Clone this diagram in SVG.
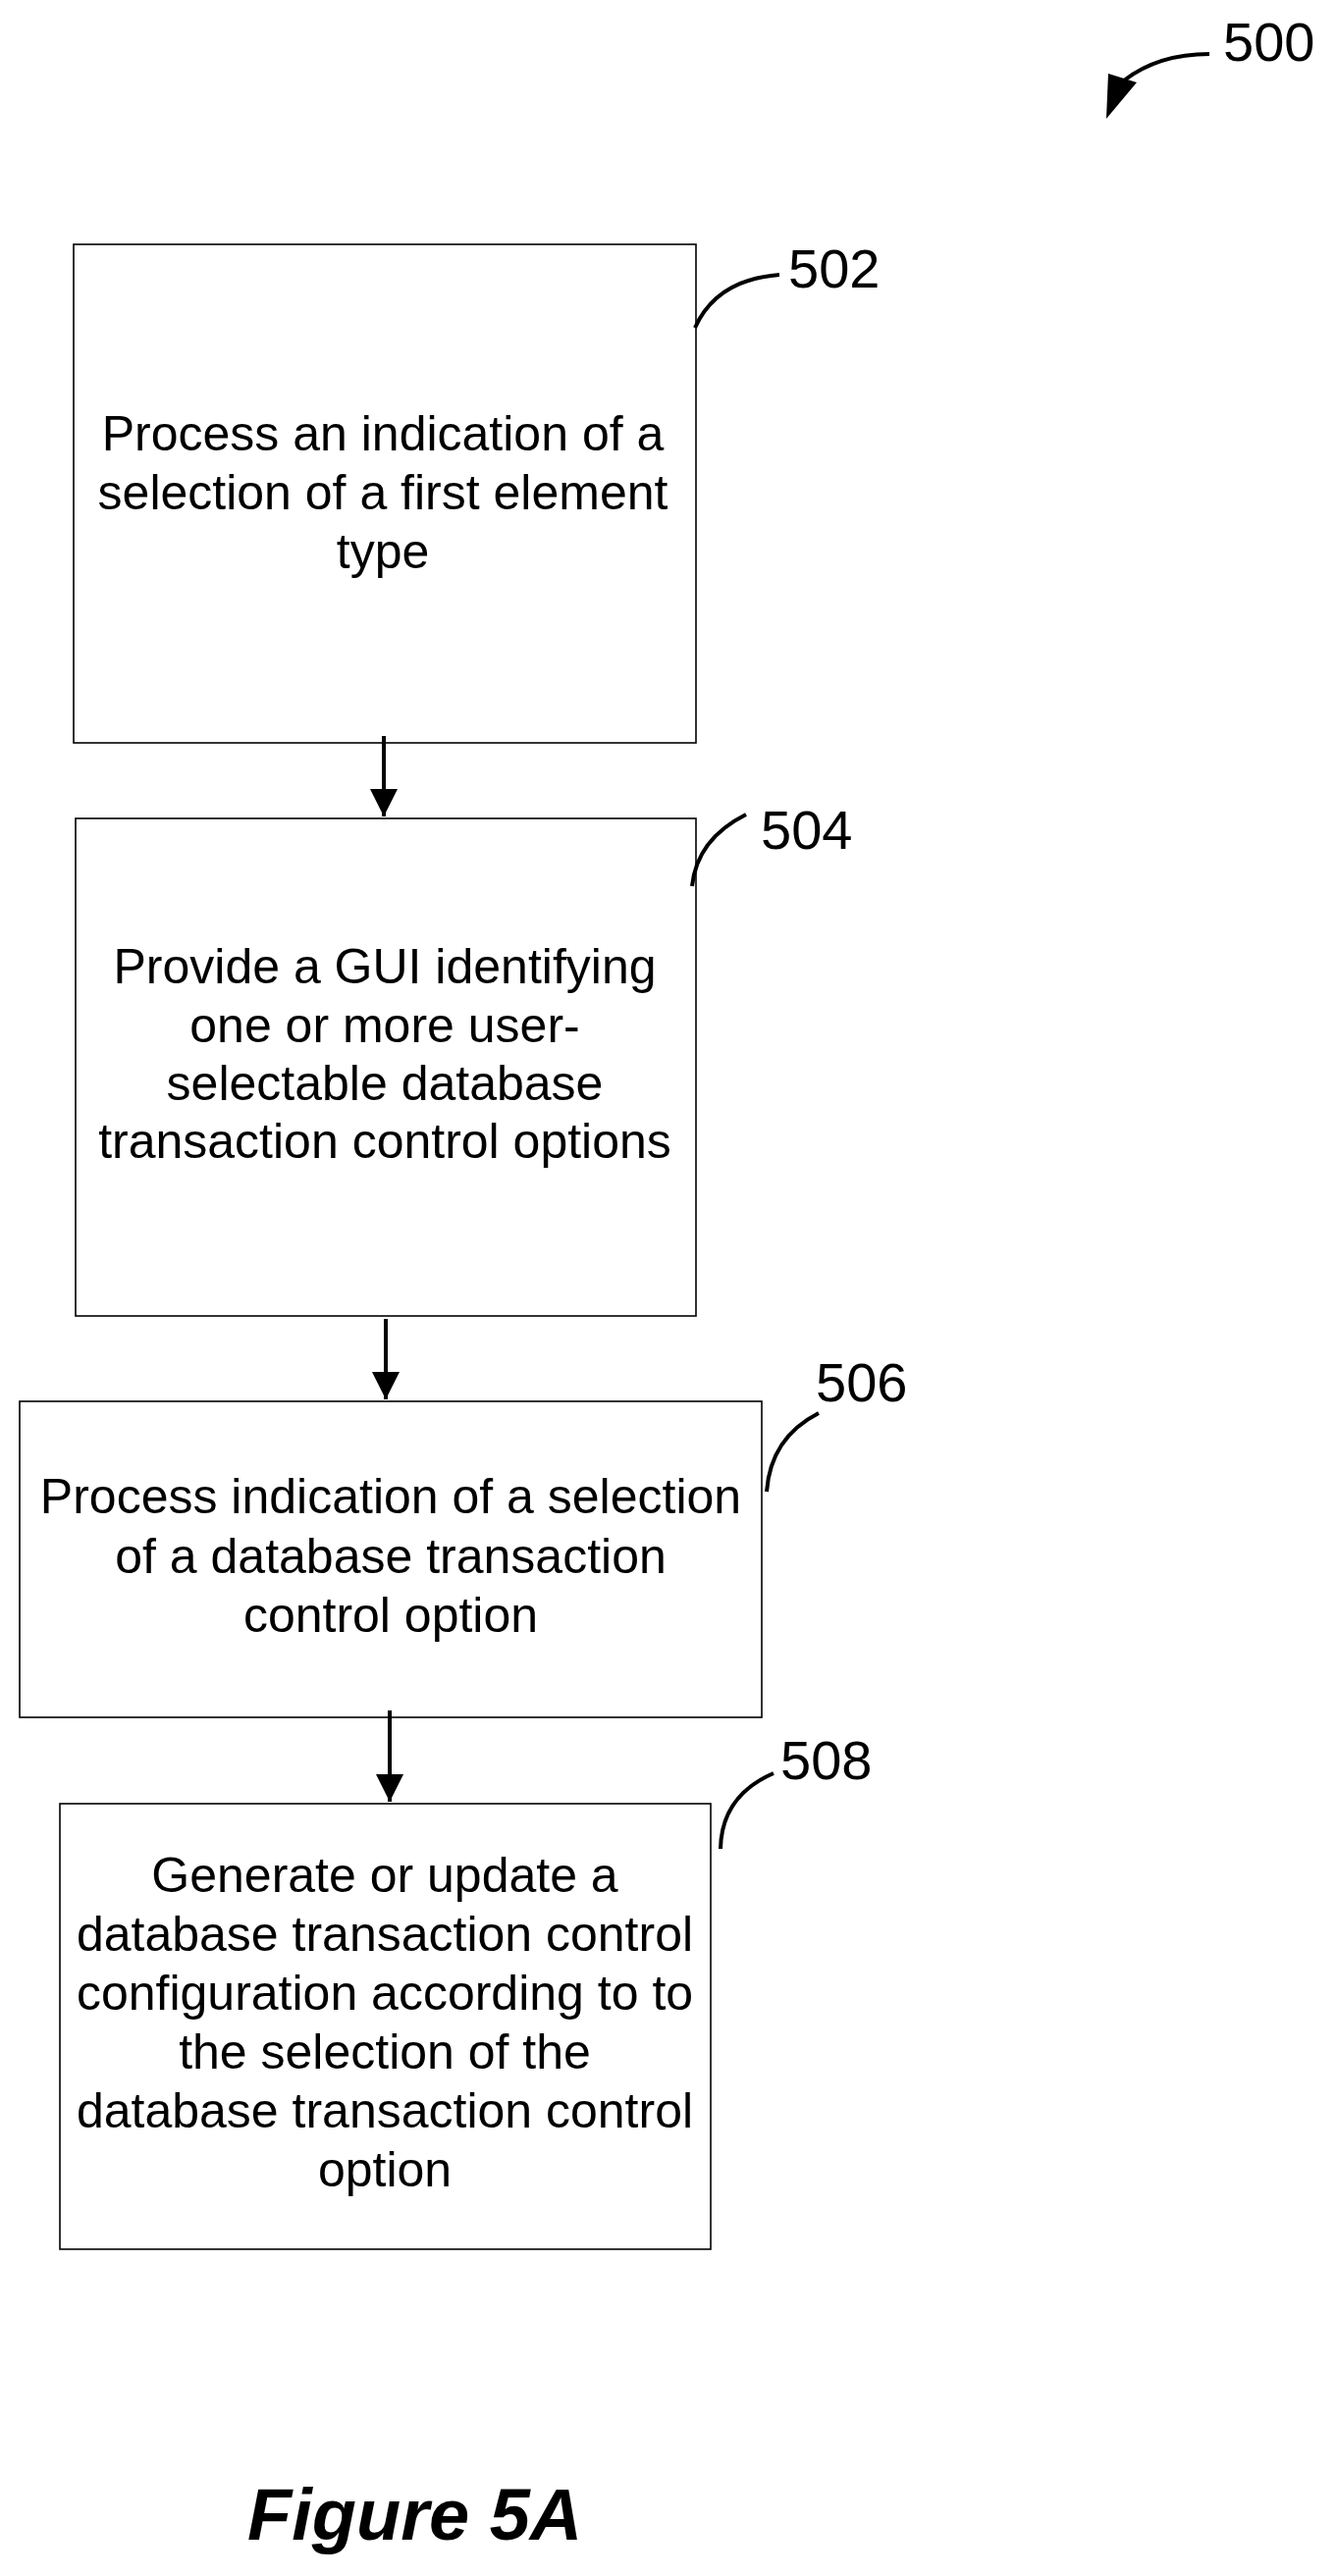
<svg xmlns="http://www.w3.org/2000/svg" width="1361" height="2625" viewBox="0 0 1361 2625">
<style>
.box{fill:#fff;stroke:#000;stroke-width:1.6}
.t{font-family:"Liberation Sans",Arial,sans-serif;font-size:50px;text-anchor:middle;fill:#000}
.n{font-family:"Liberation Sans",Arial,sans-serif;font-size:56px;fill:#000}
.c{fill:none;stroke:#000;stroke-width:4}
.a{stroke:#000;stroke-width:4}
</style>
<defs><marker id="ah" markerWidth="28" markerHeight="36" refX="28" refY="14" orient="auto" markerUnits="userSpaceOnUse" viewBox="0 0 28 28"><path d="M0,0L28,14L0,28z" fill="#000"/></marker></defs>
<rect width="1361" height="2625" fill="#fff"/>
<g id="ref500">
<path class="c" d="M1232,55 Q1180,55 1145,82"/>
<path d="M1129,75 L1158,84 L1127,121 Z" fill="#000"/>
<text class="n" x="1246" y="62">500</text>
</g>
<g id="node502">
<rect class="box" x="75" y="249" width="634" height="508"/>
<text class="t"><tspan x="390" y="459">Process an indication of a</tspan><tspan x="390" y="519">selection of a first element</tspan><tspan x="390" y="579">type</tspan></text>
<path class="c" d="M708,334 Q730,285 794,280"/>
<text class="n" x="803" y="293">502</text>
</g>
<g id="node504">
<rect class="box" x="77" y="834" width="632" height="507"/>
<text class="t"><tspan x="392" y="1002">Provide a GUI identifying</tspan><tspan x="392" y="1062">one or more user-</tspan><tspan x="392" y="1121">selectable database</tspan><tspan x="392" y="1180">transaction control options</tspan></text>
<path class="c" d="M705,903 Q710,855 760,830"/>
<text class="n" x="775" y="865">504</text>
</g>
<g id="node506">
<rect class="box" x="20" y="1428" width="756" height="322"/>
<text class="t"><tspan x="398" y="1542">Process indication of a selection</tspan><tspan x="398" y="1603">of a database transaction</tspan><tspan x="398" y="1663">control option</tspan></text>
<path class="c" d="M781,1520 Q785,1465 834,1440"/>
<text class="n" x="831" y="1428">506</text>
</g>
<g id="node508">
<rect class="box" x="61" y="1838" width="663" height="454"/>
<text class="t"><tspan x="392" y="1928">Generate or update a</tspan><tspan x="392" y="1988">database transaction control</tspan><tspan x="392" y="2048">configuration according to to</tspan><tspan x="392" y="2108">the selection of the</tspan><tspan x="392" y="2168">database transaction control</tspan><tspan x="392" y="2228">option</tspan></text>
<path class="c" d="M734,1884 Q735,1830 788,1807"/>
<text class="n" x="795" y="1813">508</text>
</g>
<g id="connectors">
<line class="a" x1="391" y1="750" x2="391" y2="832" marker-end="url(#ah)"/>
<line class="a" x1="393" y1="1344" x2="393" y2="1426" marker-end="url(#ah)"/>
<line class="a" x1="397" y1="1743" x2="397" y2="1836" marker-end="url(#ah)"/>
</g>
<text x="252" y="2588" font-family="Liberation Sans,Arial,sans-serif" font-size="74" font-weight="bold" font-style="italic">Figure 5A</text>
</svg>
